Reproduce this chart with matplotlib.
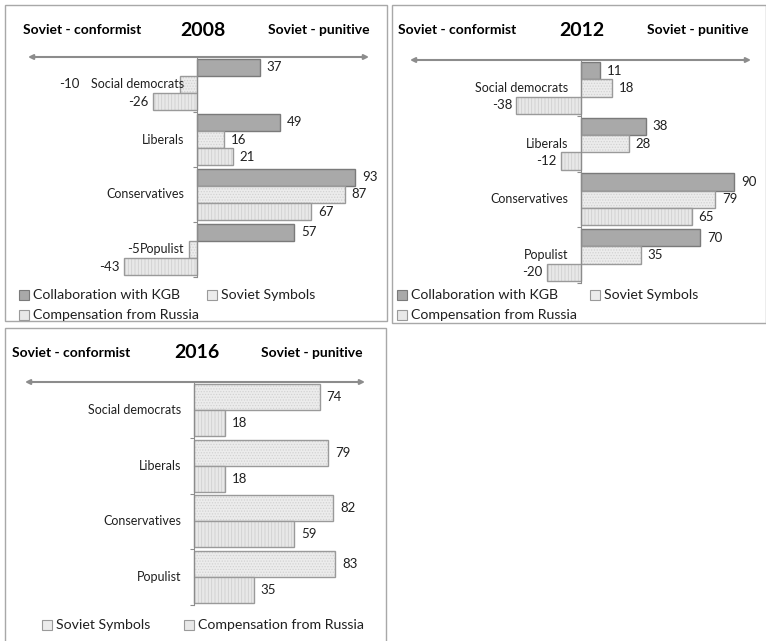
import matplotlib
matplotlib.use("Agg")
import matplotlib.pyplot as plt
from matplotlib.patches import Rectangle

plt.rcParams["font.family"] = ["Lato", "DejaVu Sans"]
plt.rcParams["hatch.linewidth"] = 0.6

# ---- data ----
categories = ["Social democrats", "Liberals", "Conservatives", "Populist"]

kgb_2008 = [37, 49, 93, 57]
symbols_2008 = [-10, 16, 87, -5]
compensation_2008 = [-26, 21, 67, -43]

kgb_2012 = [11, 38, 90, 70]
symbols_2012 = [18, 28, 79, 35]
compensation_2012 = [-38, -12, 65, -20]

symbols_2016 = [74, 79, 82, 83]
compensation_2016 = [18, 18, 59, 35]

W, H = 766, 641
PX_PER_UNIT = 1.70

# series styles: fill, hatch, hatch colour, edge colour
STYLES = {
    "Collaboration with KGB": ("#a9a9a9", "", "#a9a9a9", "#7a7a7a"),
    "Soviet Symbols": ("#ececec", "......", "#d2d2d2", "#9a9a9a"),
    "Compensation from Russia": ("#e8e8e8", "|||||", "#d0d0d0", "#9a9a9a"),
}

fig = plt.figure(figsize=(W / 100, H / 100), dpi=100)


def fx(x):
    return x / W


def fy(y):
    return 1 - y / H


def panel_box(x0, y0, x1, y1):
    fig.patches.append(Rectangle((fx(x0), fy(y1)), fx(x1 - x0), (y1 - y0) / H,
                                 transform=fig.transFigure, fill=False,
                                 edgecolor="#a8a8a8", linewidth=1.0))


def draw_bars(ax, y, vals, height, name):
    fill, hatch, hcol, ecol = STYLES[name]
    ax.barh(y, vals, height, color=fill, edgecolor=hcol, linewidth=0,
            hatch=hatch, zorder=2)
    ax.barh(y, vals, height, fill=False, edgecolor=ecol, linewidth=1.0,
            zorder=2)


def legend_item(x, y, name):
    fill, hatch, hcol, ecol = STYLES[name]
    fig.patches.append(Rectangle((fx(x), fy(y + 5)), 10 / W, 10 / H,
                                 transform=fig.transFigure, facecolor=fill,
                                 edgecolor=ecol, linewidth=0.8))
    fig.text(fx(x + 14), fy(y), name, fontsize=10.2, va="center", ha="left",
             color="#202020")


def panel(box, zero_px, year, series, label_override=None):
    x0, y0, x1, y1 = box
    ax = fig.add_axes([fx(x0), fy(y1), fx(x1 - x0), (y1 - y0) / H])
    ax.set_xlim(-(zero_px - x0) / PX_PER_UNIT, (x1 - zero_px) / PX_PER_UNIT)
    ax.set_ylim(len(categories) - 0.5, -0.5)
    ax.patch.set_alpha(0)

    n = len(series)
    height = 0.93 / n
    label_override = label_override or {}
    for k, (name, vals) in enumerate(series):
        offset = (k - (n - 1) / 2) * height
        ys = [i + offset for i in range(len(categories))]
        draw_bars(ax, ys, vals, height, name)
        for i, (yy, v) in enumerate(zip(ys, vals)):
            if (k, i) in label_override:
                ax.text(label_override[(k, i)], yy, str(v), ha="right",
                        va="center", fontsize=9.5, color="#202020")
            elif v >= 0:
                ax.annotate(str(v), xy=(v, yy), xytext=(5, 0),
                            textcoords="offset points", ha="left",
                            va="center", fontsize=9.5, color="#202020")
            else:
                ax.annotate(str(v), xy=(v, yy), xytext=(-3, 0),
                            textcoords="offset points", ha="right",
                            va="center", fontsize=9.5, color="#202020")

    for i, cat in enumerate(categories):
        ax.annotate(cat, xy=(0, i), xytext=(-9, 0), textcoords="offset points",
                    ha="right", va="center", fontsize=9, color="#202020",
                    zorder=4)

    for s in ["top", "right", "bottom"]:
        ax.spines[s].set_visible(False)
    ax.spines["left"].set_position(("data", 0))
    ax.spines["left"].set_color("#8c8c8c")
    ax.spines["left"].set_zorder(3)
    ax.set_xticks([])
    ax.set_yticks([i + 0.5 for i in range(len(categories))])
    ax.set_yticklabels([])
    ax.tick_params(axis="y", length=3, color="#8c8c8c", direction="out")

    ax.annotate("", xy=(1, 1), xytext=(0, 1), xycoords="axes fraction",
                textcoords="axes fraction",
                arrowprops=dict(arrowstyle="<|-|>", color="#8c8c8c", lw=1.5,
                                mutation_scale=7, shrinkA=0, shrinkB=0))
    return ax


def header(left_x, centre_x, right_x, y, year):
    fig.text(fx(left_x), fy(y), "Soviet - conformist", fontsize=10,
             fontweight="bold", ha="left", va="center")
    fig.text(fx(centre_x), fy(y), year, fontsize=14, fontweight="bold",
             ha="center", va="center")
    fig.text(fx(right_x), fy(y), "Soviet - punitive", fontsize=10,
             fontweight="bold", ha="right", va="center")


# ---- 2008 ----
panel_box(5, 5, 387, 321)
header(23, 203, 370, 30, "2008")
panel((28, 57, 369, 277), 197, "2008",
      [("Collaboration with KGB", kgb_2008),
       ("Soviet Symbols", symbols_2008),
       ("Compensation from Russia", compensation_2008)],
      label_override={(1, 0): -69, (1, 3): -33.5})
legend_item(19, 295, "Collaboration with KGB")
legend_item(207, 295, "Soviet Symbols")
legend_item(19, 315, "Compensation from Russia")

# ---- 2012 ----
panel_box(392, 5, 766, 323)
header(398, 582, 749, 30, "2012")
panel((410, 60, 751, 283), 581, "2012",
      [("Collaboration with KGB", kgb_2012),
       ("Soviet Symbols", symbols_2012),
       ("Compensation from Russia", compensation_2012)])
legend_item(397, 295, "Collaboration with KGB")
legend_item(590, 295, "Soviet Symbols")
legend_item(397, 315, "Compensation from Russia")

# ---- 2016 ----
panel_box(5, 328, 386, 645)
header(12, 197, 363, 353, "2016")
panel((25, 382, 365, 605), 194, "2016",
      [("Soviet Symbols", symbols_2016),
       ("Compensation from Russia", compensation_2016)])
legend_item(42, 625, "Soviet Symbols")
legend_item(184, 625, "Compensation from Russia")

fig.savefig("out.png", dpi=100)
